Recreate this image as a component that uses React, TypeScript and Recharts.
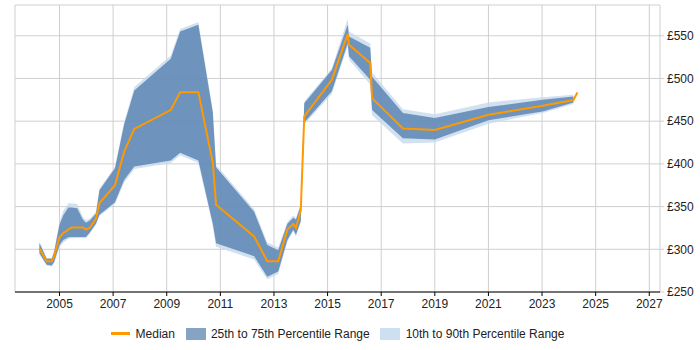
import React from 'react';
import {
  ComposedChart,
  Area,
  Line,
  XAxis,
  YAxis,
  CartesianGrid,
  Legend,
} from 'recharts';

// Sample dates (decimal years) and daily rate percentiles in GBP
const years = [
  2004.25, 2004.52, 2004.71, 2004.8, 2005.0, 2005.14, 2005.33, 2005.45, 2005.66,
  2005.87, 2005.99, 2006.14, 2006.36, 2006.49, 2007.07, 2007.41, 2007.79, 2009.15,
  2009.5, 2010.18, 2010.72, 2010.84, 2012.26, 2012.75, 2013.16, 2013.5, 2013.72,
  2013.82, 2014.0, 2014.13, 2015.16, 2015.75, 2015.8, 2016.59, 2016.66, 2017.81,
  2019.0, 2021.0, 2023.02, 2024.17, 2024.32,
];
const median = [
  301, 286, 286, 292, 314, 319, 323, 325.6, 325.6,
  325.6, 323, 325.6, 336, 354, 375, 414, 441, 463,
  484, 484, 401, 352, 315, 286, 286, 323, 329.6,
  325, 346, 455.5, 498.5, 552, 539.5, 518, 477, 441.5,
  439.6, 457.5, 468, 474.7, 483.6,
];
const p25 = [
  295.5, 282, 281, 285, 305, 311, 314, 314.5, 314.5,
  314.5, 314.5, 320, 330, 340.5, 355, 381, 397, 404,
  413, 404, 330, 307, 292, 268, 274, 311, 323,
  317, 333, 448.5, 485, 541, 526, 498.5, 463, 430,
  428.5, 451, 461.4, 472, null,
];
const p75 = [
  307.5, 289, 289, 297, 329, 340, 349, 349, 348,
  335, 331, 334, 342, 369, 395, 446, 486, 523,
  555, 563, 460, 396, 344, 305, 299, 330, 337,
  335, 351, 471, 510, 563, 549, 536, 502, 459.5,
  453.6, 466.6, 475, 479, null,
];
const p10 = [
  294, 281, 280, 284, 302, 308, 312, 313, 313,
  313, 313, 319, 329, 339, 353, 378, 394, 401,
  410, 401, 326, 303, 288, 265, 271, 309, 321,
  315, 331, 446, 482, 538, 522, 493, 457, 424,
  425, 447, 459.5, 470, null,
];
const p90 = [
  309, 290, 290, 298, 332, 345, 354, 354, 353,
  338, 334, 336, 344, 371, 397, 449, 490, 527,
  558, 566, 463, 399, 347, 308, 302, 332, 340,
  337, 353, 473, 512, 570, 555, 541, 507, 464,
  458, 472, 478, 481, null,
];

const yearTicks = [2005, 2007, 2009, 2011, 2013, 2015, 2017, 2019, 2021, 2023, 2025, 2027];
const priceTicks = [250, 300, 350, 400, 450, 500, 550];
const minorPriceTicks = [
  260, 270, 280, 290, 310, 320, 330, 340, 360, 370, 380, 390, 410, 420, 430, 440,
  460, 470, 480, 490, 510, 520, 530, 540, 560, 570, 580,
];

const data = years.map((year, i) => ({
  year,
  median: median[i],
  inner: p25[i] == null ? null : [p25[i], p75[i]],
  outer: p10[i] == null ? null : [p10[i], p90[i]],
}));

const FONT = '"Liberation Sans", Arial, sans-serif';
const TEXT = '#222';
const ORANGE = '#ff9900';

// Minor horizontal grid lines, placed through the value axis scale
const minorRows = (props: any) => {
  const scale = props?.yAxis?.scale;
  if (typeof scale !== 'function') return [];
  return minorPriceTicks.map((v) => scale(v));
};

const LegendContent = () => (
  <div
    style={{
      display: 'flex',
      justifyContent: 'center',
      alignItems: 'center',
      height: 23,
      fontFamily: FONT,
      fontSize: 12,
      color: TEXT,
      whiteSpace: 'nowrap',
    }}
  >
    <span style={{ display: 'inline-block', width: 19, height: 3, background: ORANGE, marginRight: 6 }} />
    <span style={{ marginRight: 11 }}>Median</span>
    <span style={{ display: 'inline-block', width: 20, height: 12, background: '#87a3c4', marginRight: 5 }} />
    <span style={{ marginRight: 10 }}>25th to 75th Percentile Range</span>
    <span style={{ display: 'inline-block', width: 20, height: 12, background: '#cddff0', marginRight: 6 }} />
    <span>10th to 90th Percentile Range</span>
  </div>
);

export default function App() {
  return (
    <div style={{ position: 'absolute', left: 0, top: 0 }}>
      <ComposedChart
        width={700}
        height={350}
        data={data}
        margin={{ top: 5, right: 0, left: 15, bottom: 0 }}
        style={{ fontFamily: FONT }}
      >
        <CartesianGrid
          vertical={false}
          stroke="#ebebeb"
          horizontalCoordinatesGenerator={minorRows}
        />
        <CartesianGrid stroke="#cfcfcf" />
        <XAxis
          dataKey="year"
          type="number"
          domain={[2003.34, 2027.4]}
          allowDataOverflow
          ticks={yearTicks}
          interval={0}
          height={30}
          tickSize={4}
          tickMargin={3}
          axisLine={{ stroke: '#000' }}
          tickLine={{ stroke: '#000' }}
          tick={{ fontSize: 12, fill: TEXT, fontFamily: FONT }}
        />
        <YAxis
          orientation="right"
          type="number"
          domain={[250, 586]}
          allowDataOverflow
          ticks={priceTicks}
          interval={0}
          width={40}
          tickSize={4}
          tickMargin={3}
          axisLine={false}
          tickLine={{ stroke: '#cfcfcf' }}
          tickFormatter={(v: number) => `£${v}`}
          tick={{ fontSize: 12, fill: TEXT, fontFamily: FONT, textAnchor: 'start' }}
        />
        <Area
          dataKey="outer"
          type="linear"
          stroke="none"
          fill="#c6d9ec"
          fillOpacity={0.8}
          isAnimationActive={false}
          legendType="none"
        />
        <Area
          dataKey="inner"
          type="linear"
          stroke="none"
          fill="#4572a7"
          fillOpacity={0.7}
          isAnimationActive={false}
          legendType="none"
        />
        <Line
          dataKey="median"
          type="linear"
          stroke={ORANGE}
          strokeWidth={2}
          dot={false}
          activeDot={false}
          isAnimationActive={false}
        />
        <Legend
          verticalAlign="bottom"
          content={<LegendContent />}
          wrapperStyle={{ left: 15, width: 645, height: 28 }}
        />
      </ComposedChart>
    </div>
  );
}
